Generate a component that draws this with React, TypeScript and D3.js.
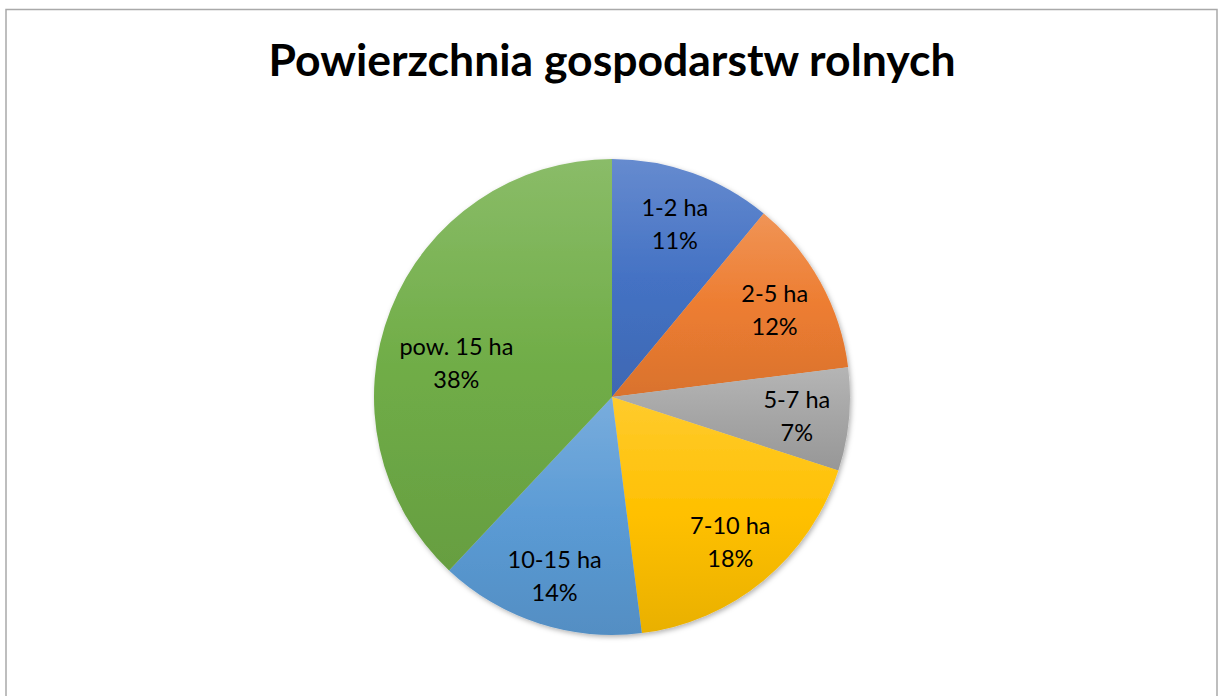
import React from "react";
import * as d3 from "d3";

const categories = ["1-2 ha", "2-5 ha", "5-7 ha", "7-10 ha", "10-15 ha", "pow. 15 ha"];
const shares = [11, 12, 7, 18, 14, 38];
const colors = ["#4472C4", "#ED7D31", "#A5A5A5", "#FFC000", "#5B9BD5", "#70AD47"];
const title = "Powierzchnia gospodarstw rolnych";

const W = 1218;
const H = 696;
const cx = 612;
const cy = 397;
const R = 238;

// Excel's best-fit moves the big slice label a bit off its centroid
const labelShift: Record<string, [number, number]> = {
  "pow. 15 ha": [17, 32],
};

const App = () => {
  const rows = categories.map((c, i) => ({ name: c, value: shares[i], color: colors[i] }));
  const pie = d3
    .pie<any>()
    .value((d) => d.value)
    .sort(null);
  const arcs = pie(rows);
  const arc = d3.arc<any>().innerRadius(0).outerRadius(R);
  const labelArc = d3.arc<any>().innerRadius(R * 0.78).outerRadius(R * 0.78);
  const font = "Lato, 'Open Sans', sans-serif";

  return (
    <svg
      width={W}
      height={H}
      style={{ position: "absolute", left: 0, top: 0, background: "#fff" }}
    >
      <defs>
        {rows.map((d, i) => (
          <linearGradient key={i} id={`g${i}`} x1="0" y1="0" x2="0" y2="1">
            <stop offset="0" stopColor={d3.interpolateRgb(d.color, "#ffffff")(0.18)} />
            <stop offset="0.5" stopColor={d.color} />
            <stop offset="1" stopColor={d3.rgb(d.color).darker(0.25).formatHex()} />
          </linearGradient>
        ))}
        <filter id="shadow" x="-10%" y="-10%" width="120%" height="120%">
          <feDropShadow dx="1.5" dy="2" stdDeviation="2.5" floodColor="#000" floodOpacity="0.3" />
        </filter>
      </defs>
      <rect x={6} y={9.5} width={1211} height={700} fill="#fff" stroke="#a9a9a9" strokeWidth={1.5} />
      <text
        x={612}
        y={76}
        textAnchor="middle"
        fontFamily={font}
        fontWeight="bold"
        fontSize={44.5}
        fill="#000"
      >
        {title}
      </text>
      <g transform={`translate(${cx},${cy})`}>
        <g filter="url(#shadow)">
          {arcs.map((a, i) => (
            <path key={i} d={arc(a) as string} fill={`url(#g${i})`} />
          ))}
        </g>
        {arcs.map((a, i) => {
          const [lx, ly] = labelArc.centroid(a);
          const s = labelShift[a.data.name] || [0, 0];
          const x = lx + s[0];
          const y = ly + s[1];
          return (
            <text
              key={i}
              textAnchor="middle"
              fontFamily={font}
              fontSize={23.5}
              fill="#000"
            >
              <tspan x={x} y={y - 6}>{a.data.name}</tspan>
              <tspan x={x} y={y + 27}>{`${a.data.value}%`}</tspan>
            </text>
          );
        })}
      </g>
    </svg>
  );
};

export default App;
